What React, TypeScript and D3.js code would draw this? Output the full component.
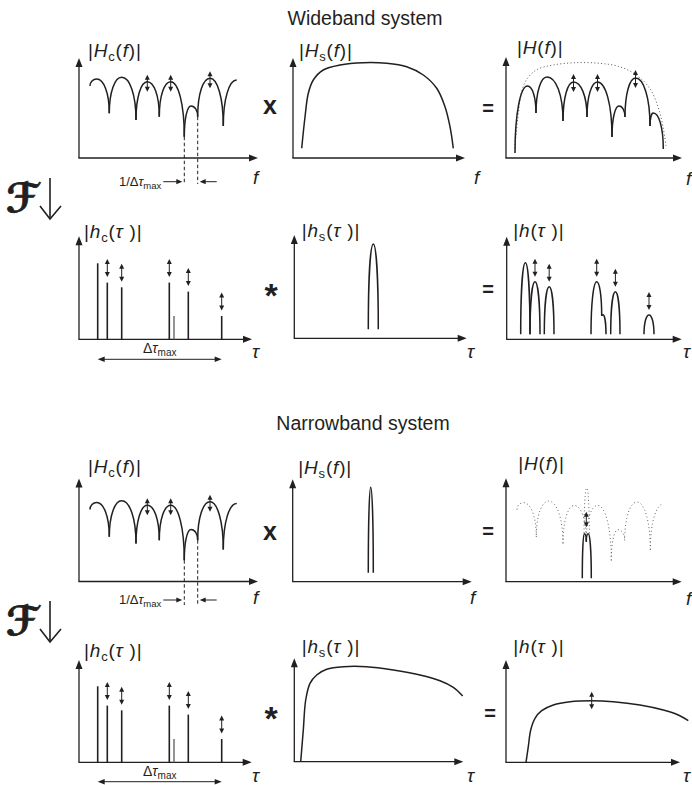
import React from 'react';
import * as d3 from 'd3';

// ---------------- DATA ----------------
// Channel frequency response |Hc(f)|: arches [fLeft, magLeft, fPeak, magPeak, fRight, magRight]
const hcArches: (number | null)[][] = [
  [11, 72, 17.7, 79, 30.3, 44.7],
  [30.3, 44.7, 42.7, 80.7, 57, 38],
  [57, 38, 68.3, 76.3, 80.3, 41.3],
  [80.3, 41.3, 91.7, 76.3, 105.3, 21.3],
  [105.3, 21.3, 112, 52, 118.7, 41.3],
  [118.7, 41.3, 131, 79.7, 144.3, 32],
  [144.3, 32, 157.7, 78, null, null],
];
const hcFadingArches = [2, 3, 5];
const hcNotchCusps = [3, 4];

// Wideband system |Hs(f)|
const hsWideF: [number, number][] = [
  [8.7, 9.7], [12, 41], [15.3, 64.7], [20.3, 78], [30.3, 88], [47, 93], [70.3, 95.3],
  [93.7, 94.7], [113.7, 91.3], [130.3, 83], [143.7, 69.7], [152, 51.3], [157, 31.3], [160.3, 9.7],
];
// Wideband |H(f)| arches
const hWideArches: (number | null)[][] = [
  [9, 5, 21.5, 72, 30, 45],
  [30, 45, 41, 81, 57, 37],
  [57, 37, 67.5, 76, 81, 41],
  [81, 41, 91.5, 76, 106, 21],
  [106, 21, 113, 52, 119, 41],
  [119, 41, 129.5, 80, 144, 32],
  [144, 32, 147.3, 45, 157.3, 9],
];
const hWideFadingArches = [2, 3, 5];

// Channel impulse response taps [tau, magnitude]
const hcTaps: [number, number][] = [
  [18.7, 76], [28.3, 56.7], [42.7, 52], [90.3, 56.7], [95, 23.3], [109.3, 47.7], [142.7, 23.3],
];
const hcFadingTaps = [1, 2, 3, 5, 6];
const hcWeakTap = 4;

// Wideband |hs(tau)| pulse
const hsWidePulse = [74, 9, 79, 94.3, 84, 9];
// Wideband |h(tau)| pulses
const hWidePulses: number[][] = [
  [14, 5, 18.7, 76.6, 23.3, 5],
  [23.3, 5, 28.3, 57.6, 33.3, 5],
  [37.6, 5, 42.5, 52.6, 47.3, 5],
  [84.3, 5, 90, 57.6, 95, 23.3],
  [95, 23.3, 96.2, 24.5, 99.3, 5],
  [104, 5, 108.7, 47.6, 113.3, 5],
  [137.3, 5, 142.3, 24.3, 147.3, 5],
];
const hWideFadingPulses = [1, 2, 3, 5, 6];

// Narrowband |Hs(f)| pulse
const hsNarrowPulse = [75.6, 9, 78, 94.4, 80.6, 9];
// Narrowband |H(f)|
const hNarrowEnvelopePulse = [78, 45, 80.7, 93.7, 83.4, 45];
const hNarrowArches: number[][] = [
  [76.3, 3.4, 78.3, 48, 80.3, 40],
  [80.3, 40, 82.3, 48, 85.3, 3.4],
];
const hNarrowFading = [80.3, 54.4, 70];

// Narrowband |hs(tau)| and |h(tau)|
const hsNarrowT: [number, number][] = [
  [6.4, 0], [9, 31.7], [11.4, 61.7], [15.7, 78.4], [22.4, 86.7], [32.4, 92.4], [49, 95],
  [72.4, 95], [99, 91.7], [125.7, 86.7], [145.7, 81], [159, 74.4], [168.4, 65.7],
];
const hNarrowT: [number, number][] = [
  [20, 0], [22.3, 15.6], [24.7, 32.3], [29, 44], [35.7, 51.6], [47.3, 57.3], [64, 60.6],
  [85.7, 61.6], [107.3, 60.6], [134, 57.3], [157.3, 52.3], [172.3, 47.3], [182.3, 41.6],
];
const hNarrowTFading = [85.7, 53, 70.6];

const titles = ['Wideband system', 'Narrowband system'];

// ---------------- DRAWING ----------------
const FONT = "'Liberation Sans', Arial, Helvetica, sans-serif";
const INK = '#231f20';

type Geo = { x0: number; y0: number; w: number; h: number };

function scales(g: Geo) {
  const x = d3.scaleLinear().domain([0, 175]).range([g.x0, g.x0 + 175]);
  const y = d3.scaleLinear().domain([0, 100]).range([g.y0, g.y0 - 100]);
  return { x, y };
}

function archD(x: any, y: any, a: (number | null)[]) {
  const [xl, hl, xp, hp, xr, hr] = a as number[];
  const p = d3.path();
  p.moveTo(x(xl), y(hl));
  p.bezierCurveTo(x(xl), y(hl + (hp - hl) * 0.6), x(xp - (xp - xl) * 0.55), y(hp), x(xp), y(hp));
  if (a[4] != null) {
    p.bezierCurveTo(x(xp + (xr - xp) * 0.55), y(hp), x(xr), y(hr + (hp - hr) * 0.6), x(xr), y(hr));
  }
  return p.toString();
}

function Axes({ g }: { g: Geo }) {
  const { x0, y0, w, h } = g;
  return (
    <g>
      <line x1={x0} y1={y0} x2={x0} y2={y0 - h + 5} stroke={INK} strokeWidth={1.3} />
      <line x1={x0 - 0.6} y1={y0} x2={x0 + w - 5} y2={y0} stroke={INK} strokeWidth={1.3} />
      <path d={`M${x0},${y0 - h} L${x0 - 3.5},${y0 - h + 9} L${x0 + 3.5},${y0 - h + 9}Z`} fill={INK} />
      <path d={`M${x0 + w},${y0} L${x0 + w - 9},${y0 - 3.5} L${x0 + w - 9},${y0 + 3.5}Z`} fill={INK} />
    </g>
  );
}

function DArrow({ x, y1, y2 }: { x: number; y1: number; y2: number }) {
  const top = Math.min(y1, y2), bot = Math.max(y1, y2);
  return (
    <g>
      <line x1={x} y1={top + 3} x2={x} y2={bot - 3} stroke={INK} strokeWidth={1} />
      <path d={`M${x},${top} L${x - 2.5},${top + 5} L${x + 2.5},${top + 5}Z`} fill={INK} />
      <path d={`M${x},${bot} L${x - 2.5},${bot - 5} L${x + 2.5},${bot - 5}Z`} fill={INK} />
    </g>
  );
}

function HArrow({ x1, x2, y }: { x1: number; x2: number; y: number }) {
  const dir = Math.sign(x2 - x1);
  return (
    <g>
      <line x1={x1} y1={y} x2={x2 - dir * 4} y2={y} stroke={INK} strokeWidth={1} />
      <path d={`M${x2},${y} L${x2 - dir * 6},${y - 2.6} L${x2 - dir * 6},${y + 2.6}Z`} fill={INK} />
    </g>
  );
}

function FnLabel({ x, y, main, sub, arg }: { x: number; y: number; main: string; sub?: string; arg: string }) {
  return (
    <text x={x} y={y} fontFamily={FONT} fontSize={19} fill={INK} letterSpacing={0.8}>
      <tspan>|</tspan>
      <tspan fontStyle="italic">{main}</tspan>
      {sub ? <tspan fontSize={13} dy={4}>{sub}</tspan> : null}
      <tspan dy={sub ? -4 : 0}>(</tspan>
      <tspan fontStyle="italic">{arg}</tspan>
      <tspan>)|</tspan>
    </text>
  );
}

function AxisVar({ x, y, v }: { x: number; y: number; v: string }) {
  return (
    <text x={x} y={y} fontFamily={FONT} fontSize={19} fontStyle="italic" fill={INK}>{v}</text>
  );
}

function Op({ x, y, s, size }: { x: number; y: number; s: string; size: number }) {
  return (
    <text x={x} y={y} fontFamily={FONT} fontSize={size} fontWeight="bold" textAnchor="middle" fill={INK}>{s}</text>
  );
}

function HcPanel({ g, dashBottom, annoY }: { g: Geo; dashBottom: number; annoY: number }) {
  const { x, y } = scales(g);
  const xD = x(hcArches[hcNotchCusps[0]][4] as number);
  const xE = x(hcArches[hcNotchCusps[1]][4] as number);
  return (
    <g>
      <Axes g={g} />
      {hcArches.map((a, i) => (
        <path key={i} d={archD(x, y, a)} fill="none" stroke={INK} strokeWidth={1.5} />
      ))}
      {hcFadingArches.map((i) => {
        const a = hcArches[i] as number[];
        return <DArrow key={i} x={x(a[2])} y1={y(a[3] + 7)} y2={y(a[3] - 10)} />;
      })}
      {hcNotchCusps.map((i) => {
        const a = hcArches[i] as number[];
        return (
          <line key={i} x1={x(a[4])} y1={y(a[5])} x2={x(a[4])} y2={g.y0 + dashBottom}
            stroke={INK} strokeWidth={1} strokeDasharray="3.5 2.5" />
        );
      })}
      <text x={xD - 23} y={g.y0 + annoY + 4} fontFamily={FONT} fontSize={13} textAnchor="end" fill={INK}>
        <tspan>1/Δ</tspan>
        <tspan fontStyle="italic">τ</tspan>
        <tspan fontSize={9.5} dy={3}>max</tspan>
      </text>
      <HArrow x1={xD - 21} x2={xD - 2} y={g.y0 + annoY} />
      <HArrow x1={xE + 19} x2={xE + 2} y={g.y0 + annoY} />
    </g>
  );
}

function HcTapsPanel({ g, arrowY, textY }: { g: Geo; arrowY: number; textY: number }) {
  const { x, y } = scales(g);
  const x1 = x(hcTaps[0][0]);
  const x2 = x(hcTaps[hcTaps.length - 1][0]);
  return (
    <g>
      <Axes g={g} />
      {hcTaps.map(([t, m], i) => (
        <line key={i} x1={x(t)} y1={g.y0} x2={x(t)} y2={y(m)}
          stroke={i === hcWeakTap ? '#666' : INK} strokeWidth={i === hcWeakTap ? 1.4 : 1.6} />
      ))}
      {hcFadingTaps.map((i) => (
        <DArrow key={i} x={x(hcTaps[i][0])} y1={y(hcTaps[i][1] + 23.5)} y2={y(hcTaps[i][1] + 5.5)} />
      ))}
      <line x1={x1 + 4} y1={g.y0 + arrowY} x2={x2 - 4} y2={g.y0 + arrowY} stroke={INK} strokeWidth={1} />
      <path d={`M${x1},${g.y0 + arrowY} L${x1 + 7},${g.y0 + arrowY - 2.8} L${x1 + 7},${g.y0 + arrowY + 2.8}Z`} fill={INK} />
      <path d={`M${x2},${g.y0 + arrowY} L${x2 - 7},${g.y0 + arrowY - 2.8} L${x2 - 7},${g.y0 + arrowY + 2.8}Z`} fill={INK} />
      <text x={(x1 + x2) / 2} y={g.y0 + textY} fontFamily={FONT} fontSize={14} textAnchor="middle" fill={INK}>
        <tspan>Δ</tspan>
        <tspan fontStyle="italic">τ</tspan>
        <tspan fontSize={10} dy={3}>max</tspan>
      </text>
    </g>
  );
}

function CurvePanel({ g, pts, dotted }: { g: Geo; pts: [number, number][]; dotted?: boolean }) {
  const { x, y } = scales(g);
  const line = d3.line<[number, number]>().x((d) => x(d[0])).y((d) => y(d[1])).curve(d3.curveCatmullRom.alpha(0.5));
  return (
    <path d={line(pts) || ''} fill="none" stroke={dotted ? '#555' : INK}
      strokeWidth={dotted ? 1 : 1.5} strokeDasharray={dotted ? '1 2.4' : undefined} />
  );
}

function Fourier({ x, y }: { x: number; y: number }) {
  return (
    <g>
      <text x={x} y={y} fontFamily="'DejaVu Sans', 'DejaVu Serif', serif" fontWeight="bold" fontSize={40} fill={INK}
        stroke={INK} strokeWidth={0.8}>ℱ</text>
      <line x1={x + 44} y1={y - 34} x2={x + 44} y2={y + 7} stroke={INK} strokeWidth={1.6} />
      <polyline points={`${x + 34},${y - 6} ${x + 44},${y + 7} ${x + 55},${y - 6}`} fill="none" stroke={INK} strokeWidth={1.6} />
    </g>
  );
}

export default function App() {
  // Row 1: wideband, frequency
  const g1 = { x0: 79, y0: 158, w: 179, h: 100 };
  const g2 = { x0: 293, y0: 158, w: 172, h: 100 };
  const g3 = { x0: 506, y0: 158, w: 176, h: 101 };
  // Row 2: wideband, delay
  const g4 = { x0: 79, y0: 339.3, w: 173, h: 103 };
  const g5 = { x0: 294.3, y0: 338.3, w: 172.4, h: 103.3 };
  const g6 = { x0: 506.7, y0: 339.3, w: 175, h: 102.6 };
  // Row 3: narrowband, frequency
  const g7 = { x0: 79, y0: 581.5, w: 179, h: 103 };
  const g8 = { x0: 292.7, y0: 581.7, w: 179, h: 102.4 };
  const g9 = { x0: 506, y0: 581.7, w: 175.7, h: 103.4 };
  // Row 4: narrowband, delay
  const g10 = { x0: 79, y0: 762.3, w: 172.7, h: 102.3 };
  const g11 = { x0: 294.3, y0: 761.7, w: 169, h: 103.4 };
  const g12 = { x0: 506, y0: 762.3, w: 174, h: 102.3 };

  const s3 = scales(g3);
  const s5 = scales(g5);
  const s6 = scales(g6);
  const s8 = scales(g8);
  const s9 = scales(g9);
  const s12 = scales(g12);

  return (
    <svg width={692} height={785} viewBox="0 0 692 785"
      style={{ position: 'absolute', left: 0, top: 0, background: '#fff' }}>
      <rect width={692} height={785} fill="#fff" />
      {/* Titles */}
      <text x={365} y={25} fontFamily={FONT} fontSize={19.5} textAnchor="middle" fill={INK}>{titles[0]}</text>
      <text x={363} y={430} fontFamily={FONT} fontSize={19.5} textAnchor="middle" fill={INK}>{titles[1]}</text>

      {/* ===== Row 1 ===== */}
      <FnLabel x={88} y={57} main="H" sub="c" arg="f" />
      <HcPanel g={g1} dashBottom={26} annoY={23.7} />
      <AxisVar x={253} y={184} v="f" />
      <Op x={270} y={114} s="x" size={25} />

      <FnLabel x={299} y={57} main="H" sub="s" arg="f" />
      <Axes g={g2} />
      <CurvePanel g={g2} pts={hsWideF} />
      <AxisVar x={474} y={184} v="f" />
      <Op x={488} y={115} s="=" size={20} />

      <FnLabel x={517} y={54} main="H" arg="f" />
      <Axes g={g3} />
      <CurvePanel g={g3} pts={hsWideF} dotted />
      {hWideArches.map((a, i) => (
        <path key={i} d={archD(s3.x, s3.y, a)} fill="none" stroke={INK} strokeWidth={1.5} />
      ))}
      {hWideFadingArches.map((i) => {
        const a = hWideArches[i] as number[];
        return <DArrow key={i} x={s3.x(a[2])} y1={s3.y(a[3] + 8)} y2={s3.y(a[3] - 10)} />;
      })}
      <AxisVar x={686} y={185} v="f" />

      <Fourier x={6} y={212} />

      {/* ===== Row 2 ===== */}
      <FnLabel x={84} y={238} main="h" sub="c" arg="τ " />
      <HcTapsPanel g={g4} arrowY={20} textY={14} />
      <AxisVar x={252} y={358} v="τ" />
      <Op x={271} y={307} s="*" size={34} />

      <FnLabel x={301.7} y={237} main="h" sub="s" arg="τ " />
      <Axes g={g5} />
      <path d={archD(s5.x, s5.y, hsWidePulse)} fill="none" stroke={INK} strokeWidth={1.5} />
      <AxisVar x={467} y={358} v="τ" />
      <Op x={488} y={296} s="=" size={20} />

      <FnLabel x={513.3} y={237} main="h" arg="τ " />
      <Axes g={g6} />
      {hWidePulses.map((a, i) => (
        <path key={i} d={archD(s6.x, s6.y, a)} fill="none" stroke={INK} strokeWidth={1.5} />
      ))}
      {hWideFadingPulses.map((i) => (
        <DArrow key={i} x={s6.x(hWidePulses[i][2])} y1={s6.y(hWidePulses[i][3] + 23)} y2={s6.y(hWidePulses[i][3] + 5)} />
      ))}
      <AxisVar x={683} y={358} v="τ" />

      {/* ===== Row 3 ===== */}
      <FnLabel x={88} y={473} main="H" sub="c" arg="f" />
      <HcPanel g={g7} dashBottom={23.5} annoY={18.5} />
      <AxisVar x={253} y={604} v="f" />
      <Op x={270} y={540} s="x" size={25} />

      <FnLabel x={298.3} y={474} main="H" sub="s" arg="f" />
      <Axes g={g8} />
      <path d={archD(s8.x, s8.y, hsNarrowPulse)} fill="none" stroke={INK} strokeWidth={1.5} />
      <AxisVar x={470} y={604} v="f" />
      <Op x={488} y={538} s="=" size={20} />

      <FnLabel x={518.3} y={470} main="H" arg="f" />
      <Axes g={g9} />
      {hcArches.map((a, i) => (
        <path key={i} d={archD(s9.x, s9.y, a)} fill="none" stroke="#666" strokeWidth={1} strokeDasharray="1 2.6" />
      ))}
      <path d={archD(s9.x, s9.y, hNarrowEnvelopePulse)} fill="none" stroke="#666" strokeWidth={1} strokeDasharray="1 2.6" />
      {hNarrowArches.map((a, i) => (
        <path key={i} d={archD(s9.x, s9.y, a)} fill="none" stroke={INK} strokeWidth={1.5} />
      ))}
      <DArrow x={s9.x(hNarrowFading[0])} y1={s9.y(hNarrowFading[2])} y2={s9.y(hNarrowFading[1])} />
      <AxisVar x={686} y={605} v="f" />

      <Fourier x={6} y={635} />

      {/* ===== Row 4 ===== */}
      <FnLabel x={84} y={657} main="h" sub="c" arg="τ " />
      <HcTapsPanel g={g10} arrowY={19.4} textY={14} />
      <AxisVar x={252} y={782} v="τ" />
      <Op x={271} y={730} s="*" size={34} />

      <FnLabel x={301.7} y={653} main="h" sub="s" arg="τ " />
      <Axes g={g11} />
      <CurvePanel g={g11} pts={hsNarrowT} />
      <AxisVar x={467} y={782} v="τ" />
      <Op x={490} y={720} s="=" size={20} />

      <FnLabel x={513.3} y={653} main="h" arg="τ " />
      <Axes g={g12} />
      <CurvePanel g={g12} pts={hNarrowT} />
      <DArrow x={s12.x(hNarrowTFading[0])} y1={s12.y(hNarrowTFading[2])} y2={s12.y(hNarrowTFading[1])} />
      <AxisVar x={683} y={782} v="τ" />
    </svg>
  );
}
